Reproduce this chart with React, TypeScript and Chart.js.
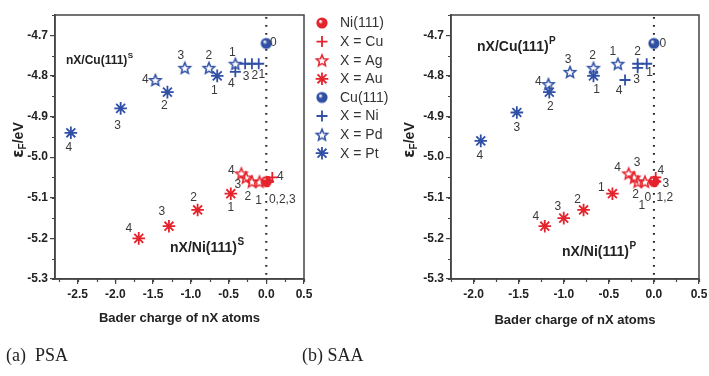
import React, { useEffect, useRef } from "react";
import { Chart, registerables } from "chart.js";
Chart.register(...registerables);

const RED = "#e5232c";
const BLUE = "#3050a6";

// ---------- data: (a) PSA ----------
const psaCu111X = [0];
const psaCu111Y = [-4.72];
const psaNiX = [-0.1, -0.19, -0.28, -0.41];
const psaNiY = [-4.77, -4.77, -4.77, -4.79];
const psaPdX = [-0.41, -0.76, -1.08, -1.47];
const psaPdY = [-4.77, -4.78, -4.78, -4.81];
const psaPtX = [-0.65, -1.31, -1.93, -2.59];
const psaPtY = [-4.8, -4.84, -4.88, -4.94];
const psaNi111X = [0];
const psaNi111Y = [-5.06];
const psaCuX = [0.02, 0.01, 0.03, 0.08];
const psaCuY = [-5.06, -5.06, -5.06, -5.05];
const psaAgX = [-0.09, -0.19, -0.27, -0.33];
const psaAgY = [-5.06, -5.06, -5.05, -5.04];
const psaAuX = [-0.47, -0.91, -1.29, -1.69];
const psaAuY = [-5.09, -5.13, -5.17, -5.2];

// ---------- data: (b) SAA ----------
const saaCu111X = [0];
const saaCu111Y = [-4.72];
const saaNiX = [-0.08, -0.18, -0.18, -0.32];
const saaNiY = [-4.77, -4.77, -4.78, -4.81];
const saaPdX = [-0.4, -0.67, -0.93, -1.17];
const saaPdY = [-4.77, -4.78, -4.79, -4.82];
const saaPtX = [-0.67, -1.16, -1.52, -1.92];
const saaPtY = [-4.8, -4.84, -4.89, -4.96];
const saaNi111X = [0];
const saaNi111Y = [-5.06];
const saaCuX = [0.0, 0.01, 0.02, 0.02];
const saaCuY = [-5.06, -5.06, -5.06, -5.05];
const saaAgX = [-0.1, -0.18, -0.22, -0.28];
const saaAgY = [-5.06, -5.06, -5.05, -5.04];
const saaAuX = [-0.46, -0.78, -1.0, -1.21];
const saaAuY = [-5.09, -5.13, -5.15, -5.17];

// ---------- labels / texts ----------
const nLabels = ["1", "2", "3", "4"];
const cu111Labels = ["0"];
const psaCuLabels = ["", "", "", "4"];
const psaNi111Labels = ["0,2,3"];
const saaCuLabels = ["1,2", "", "3", "4"];
const saaNi111Labels = ["0"];
const legendLabels = ["Ni(111)", "X = Cu", "X = Ag", "X = Au", "Cu(111)", "X = Ni", "X = Pd", "X = Pt"];
const xTitle = "Bader charge of nX atoms";
const captionA = "(a)  PSA";
const captionB = "(b) SAA";
const yTicks = [-5.3, -5.2, -5.1, -5.0, -4.9, -4.8, -4.7];

type Kind = "circle" | "cross" | "star5" | "aster";

// label offsets (style)
const psaOffs: Record<string, number[][]> = {
  cu111: [[7, -1]],
  ni: [[3, 11], [3, 12], [1, 13], [-4, 12]],
  pd: [[-3, -11], [0, -12], [-4, -12], [-10, 0]],
  pt: [[-3, 15], [-3, 14], [-3, 17], [-2, 15]],
  ni111: [[16, 18]],
  cu: [[0, 0], [0, 0], [0, 0], [8, -1]],
  ag: [[-1, 19], [-4, 15], [-8, 7], [-10, -3]],
  au: [[0, 14], [-4, -12], [-7, -15], [-10, -10]],
};
const saaOffs: Record<string, number[][]> = {
  cu111: [[9, 0]],
  ni: [[3, 9], [0, -12], [-1, 12], [-6, 11]],
  pd: [[-5, -12], [-1, -12], [-2, -12], [-10, -2]],
  pt: [[3, 14], [1, 15], [0, 15], [-1, 15]],
  ni111: [[-6, 16]],
  cu: [[11, 16], [0, 0], [10, 2], [5, -7]],
  ag: [[-3, 24], [-2, 13], [3, -15], [-11, -6]],
  au: [[-11, -6], [-6, -10], [-6, -11], [-9, -10]],
};

const imgCache: Record<string, HTMLCanvasElement> = {};
function markerImage(kind: Kind, color: string): HTMLCanvasElement {
  const key = kind + color;
  if (imgCache[key]) return imgCache[key];
  const size = 16;
  const c = document.createElement("canvas");
  c.width = size;
  c.height = size;
  const ctx = c.getContext("2d")!;
  const cx = size / 2, cy = size / 2;
  if (kind === "star5") {
    const r = 6.0;
    ctx.strokeStyle = color;
    ctx.lineWidth = 1.5;
    ctx.lineJoin = "miter";
    ctx.beginPath();
    for (let i = 0; i < 10; i++) {
      const rad = i % 2 === 0 ? r : r * 0.45;
      const a = -Math.PI / 2 + (i * Math.PI) / 5;
      const px = cx + rad * Math.cos(a), py = cy + 0.6 + rad * Math.sin(a);
      if (i === 0) ctx.moveTo(px, py);
      else ctx.lineTo(px, py);
    }
    ctx.closePath();
    ctx.stroke();
  } else if (kind === "circle") {
    const r = 5.6;
    const g = ctx.createRadialGradient(cx - 1.8, cy - 1.8, 0.5, cx, cy, r);
    g.addColorStop(0, "#ffffff");
    g.addColorStop(0.35, color);
    g.addColorStop(1, color);
    ctx.fillStyle = g;
    ctx.beginPath();
    ctx.arc(cx, cy, r, 0, Math.PI * 2);
    ctx.fill();
  }
  imgCache[key] = c;
  return c;
}

function drawMarker(ctx: CanvasRenderingContext2D, kind: Kind, color: string, x: number, y: number) {
  if (kind === "circle" || kind === "star5") {
    const img = markerImage(kind, color);
    ctx.drawImage(img, x - img.width / 2, y - img.height / 2);
    return;
  }
  ctx.save();
  ctx.strokeStyle = color;
  ctx.lineWidth = 1.8;
  ctx.beginPath();
  const r = kind === "cross" ? 5.5 : 6.3;
  ctx.moveTo(x - r, y);
  ctx.lineTo(x + r, y);
  ctx.moveTo(x, y - r);
  ctx.lineTo(x, y + r);
  if (kind === "aster") {
    const d = r * Math.SQRT1_2;
    ctx.moveTo(x - d, y - d);
    ctx.lineTo(x + d, y + d);
    ctx.moveTo(x - d, y + d);
    ctx.lineTo(x + d, y - d);
  }
  ctx.stroke();
  ctx.restore();
}

function makeDataset(xs: number[], ys: number[], kind: Kind, color: string, lbls: string[], offs: number[][]) {
  const data = xs.map((x, i) => ({ x, y: ys[i] }));
  let pointStyle: any;
  let radius = 5.5;
  if (kind === "circle" || kind === "star5") pointStyle = markerImage(kind, color);
  else if (kind === "cross") pointStyle = "cross";
  else {
    pointStyle = "star";
    radius = 6.3;
  }
  return {
    data,
    pointStyle,
    pointRadius: radius,
    pointHoverRadius: radius,
    borderColor: color,
    backgroundColor: color,
    pointBorderWidth: 1.8,
    showLine: false,
    lbls,
    offs,
  } as any;
}

type PanelCfg = {
  canvasLeft: number;
  canvasWidth: number;
  yAxisWidth: number;
  padRight: number;
  xmin: number;
  xmax: number;
  yTitleX: number;
  yTitleY: number;
  xTitleY: number;
  texts: { main: string; sup: string; dx: number; dy: number; size: number }[];
  legend: boolean;
  datasets: any[];
};

const LEGEND_KINDS: [Kind, string][] = [
  ["circle", RED],
  ["cross", RED],
  ["star5", RED],
  ["aster", RED],
  ["circle", BLUE],
  ["cross", BLUE],
  ["star5", BLUE],
  ["aster", BLUE],
];

function makeDecor(cfg: PanelCfg) {
  return {
    id: "decor",
    beforeDatasetsDraw(chart: any) {
      const ctx: CanvasRenderingContext2D = chart.ctx;
      const { left, right, top, bottom } = chart.chartArea;
      const xs = chart.scales.x, ys = chart.scales.y;
      ctx.save();
      const x0 = xs.getPixelForValue(0);
      ctx.strokeStyle = "#222";
      ctx.lineWidth = 2;
      ctx.setLineDash([1.8, 6.2]);
      ctx.beginPath();
      ctx.moveTo(x0, top + 2);
      ctx.lineTo(x0, bottom);
      ctx.stroke();
      ctx.setLineDash([]);
      ctx.strokeStyle = "#444";
      ctx.lineWidth = 1.2;
      ctx.beginPath();
      for (let v = Math.ceil(cfg.xmin / 0.25) * 0.25; v <= cfg.xmax + 1e-9; v += 0.25) {
        const p = Math.round(xs.getPixelForValue(v)) + 0.5;
        ctx.moveTo(p, bottom);
        ctx.lineTo(p, bottom + 3);
      }
      for (let v = -5.3; v <= -4.65 + 1e-9; v += 0.05) {
        const p = Math.round(ys.getPixelForValue(v)) + 0.5;
        ctx.moveTo(left, p);
        ctx.lineTo(left - 3, p);
      }
      ctx.stroke();
      ctx.strokeStyle = "#444";
      ctx.lineWidth = 1.5;
      ctx.strokeRect(left, top, right - left, bottom - top);
      ctx.restore();
    },
    afterDatasetsDraw(chart: any) {
      const ctx: CanvasRenderingContext2D = chart.ctx;
      const { left, right, top } = chart.chartArea;
      ctx.save();
      ctx.font = "12px 'Liberation Sans', Arial, sans-serif";
      ctx.fillStyle = "#3a3a3a";
      ctx.textAlign = "center";
      ctx.textBaseline = "middle";
      chart.data.datasets.forEach((ds: any, di: number) => {
        const meta = chart.getDatasetMeta(di);
        meta.data.forEach((el: any, i: number) => {
          const t = ds.lbls[i];
          if (!t) return;
          const o = ds.offs[i] || [0, 0];
          ctx.fillText(t, el.x + o[0], el.y + o[1]);
        });
      });
      ctx.fillStyle = "#222";
      ctx.textAlign = "left";
      ctx.textBaseline = "middle";
      cfg.texts.forEach((t) => {
        ctx.font = `bold ${t.size}px 'Liberation Sans', Arial, sans-serif`;
        const x = left + t.dx, y = top + t.dy;
        ctx.fillText(t.main, x, y);
        const w = ctx.measureText(t.main).width;
        ctx.font = `bold ${Math.round(t.size * 0.68)}px 'Liberation Sans', Arial, sans-serif`;
        ctx.fillText(t.sup, x + w + 0.5, y - t.size * 0.42);
      });
      ctx.font = "bold 13px 'Liberation Sans', Arial, sans-serif";
      ctx.textAlign = "center";
      ctx.fillText(xTitle, (left + right) / 2, cfg.xTitleY);
      ctx.translate(cfg.yTitleX, cfg.yTitleY);
      ctx.rotate(-Math.PI / 2);
      const f1 = "bold 15px 'DejaVu Sans', 'Liberation Sans', sans-serif";
      const f2 = "bold 10px 'Liberation Sans', Arial, sans-serif";
      const f3 = "bold 14px 'Liberation Sans', Arial, sans-serif";
      ctx.font = f1;
      const w1 = ctx.measureText("ε").width;
      ctx.font = f2;
      const w2 = ctx.measureText("F").width;
      ctx.font = f3;
      const w3 = ctx.measureText("/eV").width;
      let sx = -(w1 + w2 + w3) / 2;
      ctx.textAlign = "left";
      ctx.font = f1;
      ctx.fillText("ε", sx, 0);
      sx += w1;
      ctx.font = f2;
      ctx.fillText("F", sx, 4);
      sx += w2;
      ctx.font = f3;
      ctx.fillText("/eV", sx, 0);
      ctx.restore();

      if (cfg.legend) {
        ctx.save();
        ctx.font = "14px 'Liberation Sans', Arial, sans-serif";
        ctx.fillStyle = "#333";
        ctx.textAlign = "left";
        ctx.textBaseline = "middle";
        legendLabels.forEach((lab, i) => {
          const y = 23 + i * 18.6;
          const [k, c] = LEGEND_KINDS[i];
          drawMarker(ctx, k, c, 322, y);
          ctx.fillText(lab, 340, y + 0.5);
        });
        ctx.restore();
      }
    },
  };
}

function Panel({ cfg }: { cfg: PanelCfg }) {
  const ref = useRef<HTMLCanvasElement>(null);
  useEffect(() => {
    const chart = new Chart(ref.current!, {
      type: "scatter",
      data: { datasets: cfg.datasets },
      options: {
        animation: false,
        responsive: false,
        maintainAspectRatio: false,
        events: [],
        layout: { padding: { left: 0, top: 15, right: cfg.padRight, bottom: 0 } },
        plugins: { legend: { display: false }, tooltip: { enabled: false } },
        scales: {
          x: {
            type: "linear",
            min: cfg.xmin,
            max: cfg.xmax,
            afterFit: (s: any) => {
              s.height = 376 - 279;
            },
            ticks: {
              stepSize: 0.5,
              includeBounds: false,
              padding: 3,
              color: "#222",
              font: { family: "'Liberation Sans', Arial, sans-serif", size: 12, weight: "bold" },
              callback: (v: any) => Number(v).toFixed(1),
              maxRotation: 0,
              autoSkip: false,
            },
            grid: { display: true, drawOnChartArea: false, drawTicks: true, tickLength: 5, color: "#444", lineWidth: 1.2 },
            border: { display: true, color: "#444", width: 1.5 },
          },
          y: {
            type: "linear",
            min: -5.3,
            max: -4.65,
            afterFit: (s: any) => {
              s.width = cfg.yAxisWidth;
            },
            afterBuildTicks: (s: any) => {
              s.ticks = yTicks.map((v) => ({ value: v }));
            },
            ticks: {
              padding: 2,
              color: "#222",
              font: { family: "'Liberation Sans', Arial, sans-serif", size: 12, weight: "bold" },
              callback: (v: any) => Number(v).toFixed(1),
              autoSkip: false,
            },
            grid: { display: true, drawOnChartArea: false, drawTicks: true, tickLength: 5, color: "#444", lineWidth: 1.2 },
            border: { display: true, color: "#444", width: 1.5 },
          },
        },
      },
      plugins: [makeDecor(cfg)],
    } as any);
    return () => chart.destroy();
  }, []);
  return (
    <canvas
      ref={ref}
      width={cfg.canvasWidth}
      height={376}
      style={{ position: "absolute", left: cfg.canvasLeft, top: 0, width: cfg.canvasWidth, height: 376 }}
    />
  );
}

const psaCfg: PanelCfg = {
  canvasLeft: 0,
  canvasWidth: 420,
  yAxisWidth: 55,
  padRight: 116,
  xmin: -2.8,
  xmax: 0.5,
  yTitleX: 19,
  yTitleY: 140,
  xTitleY: 318,
  texts: [
    { main: "nX/Cu(111)", sup: "S", dx: 11, dy: 46, size: 12 },
    { main: "nX/Ni(111)", sup: "S", dx: 115, dy: 233, size: 14 },
  ],
  legend: true,
  datasets: [
    makeDataset(psaAuX, psaAuY, "aster", RED, nLabels, psaOffs.au),
    makeDataset(psaAgX, psaAgY, "star5", RED, nLabels, psaOffs.ag),
    makeDataset(psaCuX, psaCuY, "cross", RED, psaCuLabels, psaOffs.cu),
    makeDataset(psaNi111X, psaNi111Y, "circle", RED, psaNi111Labels, psaOffs.ni111),
    makeDataset(psaPtX, psaPtY, "aster", BLUE, nLabels, psaOffs.pt),
    makeDataset(psaPdX, psaPdY, "star5", BLUE, nLabels, psaOffs.pd),
    makeDataset(psaNiX, psaNiY, "cross", BLUE, nLabels, psaOffs.ni),
    makeDataset(psaCu111X, psaCu111Y, "circle", BLUE, cu111Labels, psaOffs.cu111),
  ],
};

const saaCfg: PanelCfg = {
  canvasLeft: 395,
  canvasWidth: 320,
  yAxisWidth: 56,
  padRight: 16,
  xmin: -2.25,
  xmax: 0.5,
  yTitleX: 15,
  yTitleY: 140,
  xTitleY: 320,
  texts: [
    { main: "nX/Cu(111)", sup: "P", dx: 26, dy: 32, size: 14 },
    { main: "nX/Ni(111)", sup: "P", dx: 111, dy: 237, size: 14 },
  ],
  legend: false,
  datasets: [
    makeDataset(saaAuX, saaAuY, "aster", RED, nLabels, saaOffs.au),
    makeDataset(saaAgX, saaAgY, "star5", RED, nLabels, saaOffs.ag),
    makeDataset(saaCuX, saaCuY, "cross", RED, saaCuLabels, saaOffs.cu),
    makeDataset(saaNi111X, saaNi111Y, "circle", RED, saaNi111Labels, saaOffs.ni111),
    makeDataset(saaPtX, saaPtY, "aster", BLUE, nLabels, saaOffs.pt),
    makeDataset(saaPdX, saaPdY, "star5", BLUE, nLabels, saaOffs.pd),
    makeDataset(saaNiX, saaNiY, "cross", BLUE, nLabels, saaOffs.ni),
    makeDataset(saaCu111X, saaCu111Y, "circle", BLUE, cu111Labels, saaOffs.cu111),
  ],
};

export default function App() {
  const capStyle: React.CSSProperties = {
    position: "absolute",
    top: 343,
    fontFamily: "'Liberation Serif', 'Times New Roman', serif",
    fontSize: 18,
    color: "#222",
    whiteSpace: "pre",
    lineHeight: "24px",
  };
  return (
    <div style={{ position: "fixed", left: 0, top: 0, width: 709, height: 376, overflow: "hidden", background: "#fff" }}>
      <Panel cfg={psaCfg} />
      <Panel cfg={saaCfg} />
      <div style={{ ...capStyle, left: 6 }}>{captionA}</div>
      <div style={{ ...capStyle, left: 302 }}>{captionB}</div>
    </div>
  );
}
